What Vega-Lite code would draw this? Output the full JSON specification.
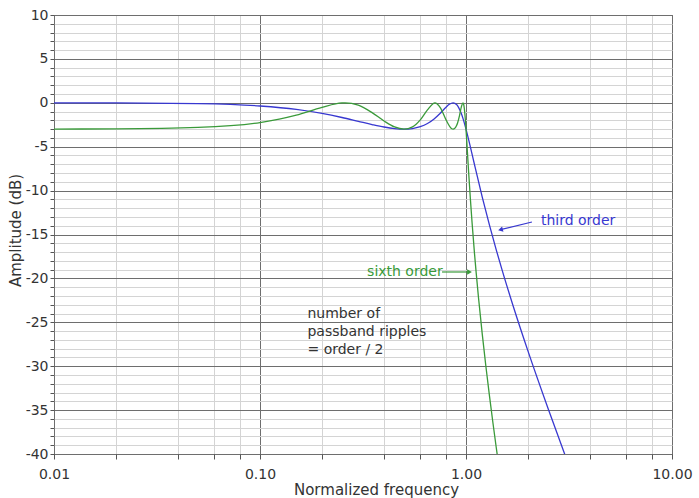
{
  "$schema": "https://vega.github.io/schema/vega-lite/v6.json",
  "width": 618,
  "height": 439,
  "autosize": {"type": "none"},
  "padding": {"left": 54, "top": 15, "right": 27, "bottom": 44},
  "background": "white",
  "config": {
    "view": {"stroke": "#555555", "strokeWidth": 1},
    "font": "DejaVu Sans",
    "axis": {
      "labelFont": "DejaVu Sans",
      "titleFont": "DejaVu Sans",
      "labelFontSize": 14,
      "titleFontSize": 15,
      "titleFontWeight": "normal",
      "labelColor": "#333333",
      "titleColor": "#333333",
      "domain": false,
      "tickColor": "#555555"
    }
  },
  "datasets": {
    "curves": [
      {"series": "third order", "f": 0.01, "db": -0.004},
      {"series": "third order", "f": 0.02, "db": -0.016},
      {"series": "third order", "f": 0.05, "db": -0.096},
      {"series": "third order", "f": 0.1, "db": -0.363},
      {"series": "third order", "f": 0.15, "db": -0.754},
      {"series": "third order", "f": 0.2, "db": -1.209},
      {"series": "third order", "f": 0.25, "db": -1.674},
      {"series": "third order", "f": 0.3, "db": -2.107},
      {"series": "third order", "f": 0.35, "db": -2.475},
      {"series": "third order", "f": 0.4, "db": -2.758},
      {"series": "third order", "f": 0.45, "db": -2.937},
      {"series": "third order", "f": 0.5, "db": -3.0},
      {"series": "third order", "f": 0.55, "db": -2.933},
      {"series": "third order", "f": 0.6, "db": -2.723},
      {"series": "third order", "f": 0.65, "db": -2.359},
      {"series": "third order", "f": 0.7, "db": -1.84},
      {"series": "third order", "f": 0.75, "db": -1.189},
      {"series": "third order", "f": 0.8, "db": -0.505},
      {"series": "third order", "f": 0.83, "db": -0.174},
      {"series": "third order", "f": 0.866, "db": 0.0},
      {"series": "third order", "f": 0.9, "db": -0.197},
      {"series": "third order", "f": 0.92, "db": -0.513},
      {"series": "third order", "f": 0.95, "db": -1.252},
      {"series": "third order", "f": 0.97, "db": -1.892},
      {"series": "third order", "f": 1.0, "db": -3.0},
      {"series": "third order", "f": 1.02, "db": -3.797},
      {"series": "third order", "f": 1.05, "db": -5.026},
      {"series": "third order", "f": 1.1, "db": -7.056},
      {"series": "third order", "f": 1.2, "db": -10.762},
      {"series": "third order", "f": 1.3, "db": -13.941},
      {"series": "third order", "f": 1.4, "db": -16.693},
      {"series": "third order", "f": 1.5, "db": -19.118},
      {"series": "third order", "f": 1.7, "db": -23.258},
      {"series": "third order", "f": 2.0, "db": -28.285},
      {"series": "third order", "f": 2.5, "db": -34.788},
      {"series": "third order", "f": 3.0, "db": -39.892},
      {"series": "third order", "f": 3.05, "db": -40.35},
      {"series": "sixth order", "f": 0.01, "db": -2.992},
      {"series": "sixth order", "f": 0.02, "db": -2.969},
      {"series": "sixth order", "f": 0.05, "db": -2.806},
      {"series": "sixth order", "f": 0.1, "db": -2.246},
      {"series": "sixth order", "f": 0.15, "db": -1.403},
      {"series": "sixth order", "f": 0.2, "db": -0.513},
      {"series": "sixth order", "f": 0.25, "db": -0.013},
      {"series": "sixth order", "f": 0.2588, "db": 0.0},
      {"series": "sixth order", "f": 0.3, "db": -0.271},
      {"series": "sixth order", "f": 0.35, "db": -1.12},
      {"series": "sixth order", "f": 0.4, "db": -2.066},
      {"series": "sixth order", "f": 0.45, "db": -2.751},
      {"series": "sixth order", "f": 0.5, "db": -3.0},
      {"series": "sixth order", "f": 0.55, "db": -2.734},
      {"series": "sixth order", "f": 0.6, "db": -1.94},
      {"series": "sixth order", "f": 0.65, "db": -0.798},
      {"series": "sixth order", "f": 0.7071, "db": 0.0},
      {"series": "sixth order", "f": 0.75, "db": -0.547},
      {"series": "sixth order", "f": 0.8, "db": -1.94},
      {"series": "sixth order", "f": 0.85, "db": -2.924},
      {"series": "sixth order", "f": 0.866, "db": -3.0},
      {"series": "sixth order", "f": 0.88, "db": -2.936},
      {"series": "sixth order", "f": 0.9, "db": -2.596},
      {"series": "sixth order", "f": 0.91, "db": -2.303},
      {"series": "sixth order", "f": 0.93, "db": -1.464},
      {"series": "sixth order", "f": 0.95, "db": -0.443},
      {"series": "sixth order", "f": 0.9659, "db": 0.0},
      {"series": "sixth order", "f": 0.975, "db": -0.212},
      {"series": "sixth order", "f": 0.99, "db": -1.566},
      {"series": "sixth order", "f": 1.0, "db": -3.0},
      {"series": "sixth order", "f": 1.01, "db": -4.623},
      {"series": "sixth order", "f": 1.02, "db": -6.29},
      {"series": "sixth order", "f": 1.03, "db": -7.91},
      {"series": "sixth order", "f": 1.05, "db": -10.933},
      {"series": "sixth order", "f": 1.07, "db": -13.639},
      {"series": "sixth order", "f": 1.1, "db": -17.201},
      {"series": "sixth order", "f": 1.12, "db": -19.318},
      {"series": "sixth order", "f": 1.15, "db": -22.198},
      {"series": "sixth order", "f": 1.2, "db": -26.408},
      {"series": "sixth order", "f": 1.25, "db": -30.089},
      {"series": "sixth order", "f": 1.3, "db": -33.384},
      {"series": "sixth order", "f": 1.35, "db": -36.382},
      {"series": "sixth order", "f": 1.4, "db": -39.144},
      {"series": "sixth order", "f": 1.42, "db": -40.19}
    ],
    "labels": [
      {"series": "third order", "text": "third order", "f": 2.31, "db": -13.5},
      {"series": "sixth order", "text": "sixth order", "f": 0.331, "db": -19.27}
    ],
    "notes": [
      {"text": "number of", "f": 0.17, "db": -24.05},
      {"text": "passband ripples", "f": 0.17, "db": -26.1},
      {"text": "= order / 2", "f": 0.17, "db": -28.15}
    ],
    "arrows": [
      {"series": "third order", "f": 2.09, "db": -13.58, "f2": 1.47, "db2": -14.45},
      {"series": "sixth order", "f": 0.765, "db": -19.27, "f2": 1.04, "db2": -19.27}
    ]
  },
  "encoding": {
    "x": {
      "field": "f",
      "type": "quantitative",
      "scale": {"type": "log", "domain": [0.01, 10], "nice": false},
      "axis": {
        "title": "Normalized frequency",
        "values": [0.01, 0.02, 0.04, 0.06, 0.08, 0.1, 0.2, 0.4, 0.6, 0.8, 1, 2, 4, 6, 8, 10],
        "labelExpr": "(datum.value == 0.01 || datum.value == 0.1 || datum.value == 1 || datum.value == 10) ? format(datum.value, '.2f') : ''",
        "gridColor": {"condition": {"test": "datum.value == 0.01 || datum.value == 0.1 || datum.value == 1 || datum.value == 10", "value": "#6e6e6e"}, "value": "#d4d4d4"},
        "tickSize": 5,
        "labelPadding": 8,
        "labelFlush": false,
        "labelOverlap": false,
        "titlePadding": 1,
        "titleX": 322
      }
    },
    "y": {
      "field": "db",
      "type": "quantitative",
      "scale": {"domain": [-40, 10], "nice": false, "zero": false},
      "axis": {
        "title": "Amplitude (dB)",
        "values": [-40, -39, -38, -37, -36, -35, -34, -33, -32, -31, -30, -29, -28, -27, -26, -25, -24, -23, -22, -21, -20, -19, -18, -17, -16, -15, -14, -13, -12, -11, -10, -9, -8, -7, -6, -5, -4, -3, -2, -1, 0, 1, 2, 3, 4, 5, 6, 7, 8, 9, 10],
        "labelExpr": "datum.value % 5 === 0 ? ('' + datum.value) : ''",
        "gridColor": {"condition": {"test": "datum.value % 5 === 0", "value": "#6e6e6e"}, "value": "#d4d4d4"},
        "tickSize": 4,
        "labelPadding": 2,
        "labelOverlap": false,
        "labelFlush": false,
        "titleX": -31,
        "titleY": 215
      }
    }
  },
  "layer": [
    {
      "data": {"name": "curves"},
      "mark": {"type": "line", "interpolate": "monotone", "strokeWidth": 1.3, "clip": true},
      "encoding": {
        "color": {"field": "series", "type": "nominal", "scale": {"domain": ["third order", "sixth order"], "range": ["#3838d0", "#3a9a3a"]}, "legend": null},
        "order": {"field": "f", "type": "quantitative"}
      }
    },
    {
      "data": {"name": "labels"},
      "mark": {"type": "text", "align": "left", "baseline": "middle", "fontSize": 14, "font": "DejaVu Sans"},
      "encoding": {
        "text": {"field": "text"},
        "color": {"field": "series", "type": "nominal", "scale": {"domain": ["third order", "sixth order"], "range": ["#3838d0", "#3a9a3a"]}, "legend": null}
      }
    },
    {
      "data": {"name": "notes"},
      "mark": {"type": "text", "align": "left", "baseline": "middle", "fontSize": 14, "font": "DejaVu Sans", "color": "#333333"},
      "encoding": {"text": {"field": "text"}}
    },
    {
      "data": {"name": "arrows"},
      "mark": {"type": "rule", "strokeWidth": 1.2},
      "encoding": {
        "x2": {"field": "f2"},
        "y2": {"field": "db2"},
        "color": {"field": "series", "type": "nominal", "scale": {"domain": ["third order", "sixth order"], "range": ["#3838d0", "#3a9a3a"]}, "legend": null}
      }
    },
    {
      "data": {"name": "arrows"},
      "transform": [{"filter": "datum.series == 'third order'"}],
      "mark": {"type": "point", "shape": "triangle-left", "filled": true, "size": 30, "angle": -14, "opacity": 1},
      "encoding": {
        "x": {"field": "f2", "type": "quantitative"},
        "y": {"field": "db2", "type": "quantitative"},
        "color": {"field": "series", "type": "nominal", "scale": {"domain": ["third order", "sixth order"], "range": ["#3838d0", "#3a9a3a"]}, "legend": null}
      }
    },
    {
      "data": {"name": "arrows"},
      "transform": [{"filter": "datum.series == 'sixth order'"}],
      "mark": {"type": "point", "shape": "triangle-right", "filled": true, "size": 30, "opacity": 1},
      "encoding": {
        "x": {"field": "f2", "type": "quantitative"},
        "y": {"field": "db2", "type": "quantitative"},
        "color": {"field": "series", "type": "nominal", "scale": {"domain": ["third order", "sixth order"], "range": ["#3838d0", "#3a9a3a"]}, "legend": null}
      }
    }
  ]
}
